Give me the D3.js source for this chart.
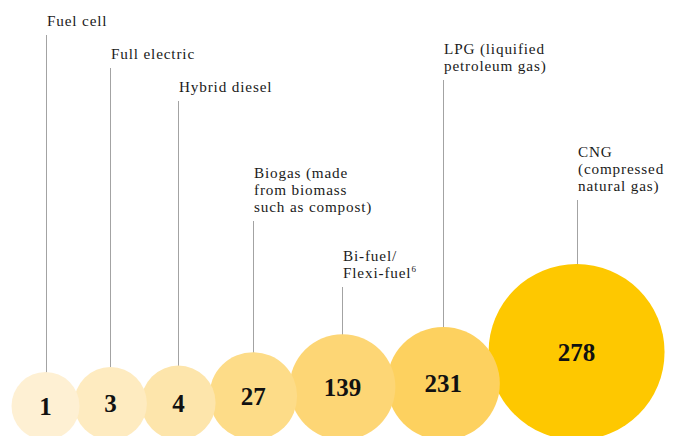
<!DOCTYPE html>
<html>
<head>
<meta charset="utf-8">
<script src="https://cdn.jsdelivr.net/npm/d3@7"></script>
<style>
  body { margin: 0; background: #fff; }
  .label { font-family: "Liberation Serif", serif; font-size: 15.2px; fill: #1a1a1a; letter-spacing: 0.85px; }
  .num { font-family: "Liberation Serif", serif; font-size: 25px; font-weight: bold; fill: #111; }
</style>
</head>
<body>
<div id="chart"></div>
<script>
// data
var fuels = ['Fuel cell', 'Full electric', 'Hybrid diesel', 'Biogas', 'Bi-fuel', 'LPG', 'CNG'];
var counts = [1, 3, 4, 27, 139, 231, 278];
var labelLines = [
  ['Fuel cell'],
  ['Full electric'],
  ['Hybrid diesel'],
  ['Biogas (made', 'from biomass', 'such as compost)'],
  ['Bi-fuel/', 'Flexi-fuel'],
  ['LPG (liquified', 'petroleum gas)'],
  ['CNG', '(compressed', 'natural gas)']
];
var footnotes = ['', '', '', '', '6', '', ''];

// layout
var svgWidth = 675;
var svgHeight = 436;
var baseY = 440;
var startX = 45.5;
var lineHeight = 17;
var leaderTop = [35, 68, 101, 221, 287, 80, 200];
var palette = ['#fef0d3', '#feebc0', '#fde5ab', '#fddc88', '#fdd675', '#fdd15f', '#fec800'];

var svg = d3.select('#chart')
  .append('svg')
  .attr('width', svgWidth)
  .attr('height', svgHeight);

// radius scale
var rScale = d3.scalePow().exponent(0.25)
  .domain([1, 231, 278])
  .range([34, 56.5, 88]);

// pack circles side by side with a little overlap
var nodes = [];
var x = startX;
counts.forEach(function(v, i) {
  var r = rScale(v);
  if (i > 0) {
    var prev = nodes[i - 1];
    x = prev.cx + (prev.r + r) * 0.922;
  }
  nodes.push({ name: fuels[i], value: v, r: r, cx: x, cy: baseY - r, i: i });
});

// leader lines
svg.selectAll('line.leader')
  .data(nodes)
  .enter()
  .append('line')
  .attr('class', 'leader')
  .attr('x1', function(d) { return Math.round(d.cx) + 0.5; })
  .attr('x2', function(d) { return Math.round(d.cx) + 0.5; })
  .attr('y1', function(d) { return leaderTop[d.i]; })
  .attr('y2', function(d) { return d.cy - d.r + 2; })
  .attr('stroke', '#a3a3a3')
  .attr('stroke-width', 1);

// labels, one text per line
nodes.forEach(function(d) {
  var lines = labelLines[d.i];
  var firstY = leaderTop[d.i] - 9 - (lines.length - 1) * lineHeight;
  lines.forEach(function(line, k) {
    var t = svg.append('text')
      .attr('class', 'label')
      .attr('x', Math.round(d.cx) + 1)
      .attr('y', firstY + k * lineHeight)
      .text(line);
    if (k === lines.length - 1 && footnotes[d.i]) {
      t.append('tspan')
        .attr('font-size', 9)
        .attr('dy', -6)
        .text(footnotes[d.i]);
    }
  });
});

// circles, drawn right to left so the left ones sit on top
var bubbles = svg.selectAll('g.bubble')
  .data(nodes.slice().reverse())
  .enter()
  .append('g')
  .attr('class', 'bubble');

bubbles.append('circle')
  .attr('cx', function(d) { return d.cx; })
  .attr('cy', function(d) { return d.cy; })
  .attr('r', function(d) { return d.r; })
  .attr('fill', function(d) { return palette[d.i]; });

bubbles.append('text')
  .attr('class', 'num')
  .attr('x', function(d) { return d.cx; })
  .attr('y', function(d) { return d.cy; })
  .attr('dy', '0.35em')
  .attr('text-anchor', 'middle')
  .text(function(d) { return d.value; });
</script>
</body>
</html>
